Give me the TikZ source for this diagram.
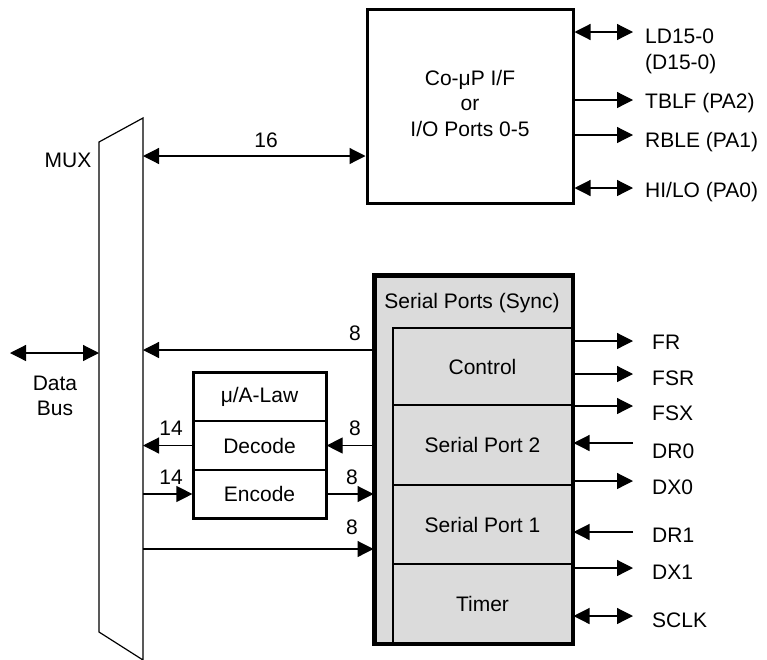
\documentclass[tikz,border=0pt]{standalone}
\usepackage{fontspec}
\setmainfont{Liberation Sans}
\usetikzlibrary{arrows.meta}
\begin{document}
\begin{tikzpicture}[x=1pt,y=-1pt,
  font=\fontsize{21}{25.5}\selectfont,
  conn/.style={line width=1.2pt},
  outarrow/.style={conn,-{Triangle[length=16pt,width=16pt]}},
  dblarrow/.style={conn,{Triangle[length=16pt,width=16pt]}-{Triangle[length=16pt,width=16pt]}},
  thickbox/.style={draw,line width=3pt,inner sep=0pt},
  thinbox/.style={draw,line width=1.2pt,inner sep=0pt,minimum width=179pt},
  lawpart/.style={draw,line width=1.2pt,inner sep=0pt,minimum width=133pt},
  lbl/.style={anchor=west,inner sep=0pt},
  num/.style={inner sep=0pt}]
\useasboundingbox (0,0) rectangle (767,659);

% MUX
\coordinate (mTL) at (99,142);
\coordinate (mTR) at (143,118);
\coordinate (mBR) at (143,660);
\coordinate (mBL) at (99,632);
\draw[conn] (mTL) -- (mTR) -- (mBR) -- (mBL) -- cycle;
\node (muxlbl) at (68,160) {MUX};

% top box
\node[thickbox, minimum width=206pt, minimum height=194pt] (cop) at (470,106) {};
\node[align=center, inner sep=0pt] (coptxt) at (470,103) {Co-μP I/F\\or\\I/O Ports 0-5};

\coordinate (m16) at (143,156);
\draw[dblarrow] (m16) -- (cop.west |- m16);
\node[num] (n16) at (266,140) {16};

\coordinate (ld) at (633,32);
\coordinate (tb) at (633,100);
\coordinate (rb) at (633,135);
\coordinate (hl) at (633,188);
\draw[dblarrow] (cop.east |- ld) -- (ld);
\draw[outarrow] (cop.east |- tb) -- (tb);
\draw[outarrow] (cop.east |- rb) -- (rb);
\draw[dblarrow] (cop.east |- hl) -- (hl);
\node[lbl] (ldl) at (645,36) {LD15-0};
\node[lbl] (dl) at (645,64) {(D15-0)};
\node[lbl] (tbl) at (645,103) {TBLF (PA2)};
\node[lbl] (rbl) at (645,142) {RBLE (PA1)};
\node[lbl] (hll) at (645,192) {HI/LO (PA0)};

% serial ports box
\node[thickbox, fill=gray!28, minimum width=197pt, minimum height=367pt] (sp) at (473.5,459.5) {};
\node (sptitle) at (472,303) {Serial Ports (Sync)};
\node[thinbox, minimum height=77pt] (ctrl) at (482.5,366.5) {Control};
\node[thinbox, minimum height=80pt] (sp2) at (482.5,445) {Serial Port 2};
\node[thinbox, minimum height=79pt] (sp1) at (482.5,524.5) {Serial Port 1};
\node[thinbox, minimum height=79pt] (tmr) at (482.5,603.5) {Timer};
\draw[line width=3pt] (sp.north west) rectangle (sp.south east);

\coordinate (fr) at (633,341);
\coordinate (fsr) at (633,374);
\coordinate (fsx) at (633,406);
\coordinate (dr0) at (633,443);
\coordinate (dx0) at (633,481);
\coordinate (dr1) at (633,532);
\coordinate (dx1) at (633,568);
\coordinate (sclk) at (633,616);
\draw[outarrow] (sp.east |- fr) -- (fr);
\draw[outarrow] (sp.east |- fsr) -- (fsr);
\draw[outarrow] (sp.east |- fsx) -- (fsx);
\draw[outarrow] (dr0) -- (sp.east |- dr0);
\draw[outarrow] (sp.east |- dx0) -- (dx0);
\draw[outarrow] (dr1) -- (sp.east |- dr1);
\draw[outarrow] (sp.east |- dx1) -- (dx1);
\draw[dblarrow] (sp.east |- sclk) -- (sclk);
\node[lbl] (frl) at (652,342) {FR};
\node[lbl] (fsrl) at (652,378) {FSR};
\node[lbl] (fsxl) at (652,413) {FSX};
\node[lbl] (dr0l) at (652,451) {DR0};
\node[lbl] (dx0l) at (652,487) {DX0};
\node[lbl] (dr1l) at (652,535) {DR1};
\node[lbl] (dx1l) at (652,572) {DX1};
\node[lbl] (sclkl) at (652,620) {SCLK};

% data bus
\coordinate (db) at (10,353);
\coordinate (mL) at (99,353);
\draw[dblarrow] (db) -- (mL);
\node[align=center, inner sep=0pt] (dbl) at (55,396) {Data\\Bus};

% 8 from serial to mux
\coordinate (m8a) at (143,350);
\draw[outarrow] (sp.west |- m8a) -- (m8a);
\node[num] (n8a) at (355,333) {8};

% law box
\node[lawpart, minimum height=49pt] (lawt) at (259.5,396.5) {μ/A-Law};
\node[lawpart, minimum height=49pt] (dec) at (259.5,445.5) {Decode};
\node[lawpart, minimum height=48pt] (enc) at (259.5,494) {Encode};
\node[thickbox, minimum width=133pt, minimum height=146pt] (law) at (259.5,445) {};

\coordinate (m14a) at (143,445.5);
\draw[outarrow] (dec.west) -- (m14a);
\node[num] (n14a) at (171,428) {14};
\draw[outarrow] (sp.west |- dec.east) -- (dec.east);
\node[num] (n8b) at (355,428) {8};

\coordinate (m14b) at (143,494);
\draw[outarrow] (m14b) -- (enc.west);
\node[num] (n14b) at (171,477) {14};
\draw[outarrow] (enc.east) -- (sp.west |- enc.east);
\node[num] (n8c) at (352,477) {8};

\coordinate (m8b) at (143,549);
\draw[outarrow] (m8b) -- (sp.west |- m8b);
\node[num] (n8d) at (352,527) {8};
\end{tikzpicture}
\end{document}
